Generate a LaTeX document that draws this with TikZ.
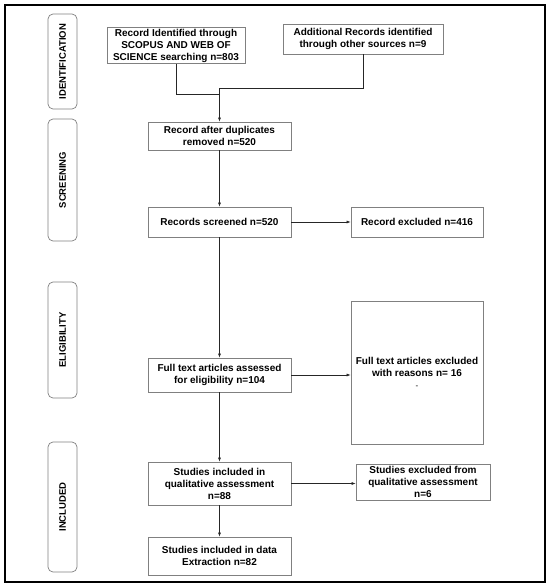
\documentclass[tikz,border=0pt]{standalone}
\usepackage{fontspec}
\setmainfont{Liberation Sans}
\usetikzlibrary{arrows.meta}
\begin{document}
\begin{tikzpicture}[x=1pt,y=-1pt,
  box/.style={draw=black!50, line width=0.7pt, fill=white, align=center, inner sep=1pt,
    font=\bfseries\fontsize{10}{12}\selectfont, text=black},
  lab/.style={draw=black!50, line width=0.7pt, rounded corners=5pt, rotate=90,
    font=\bfseries\fontsize{9.5}{11}\selectfont, inner sep=0pt, minimum height=29pt},
  arr/.style={draw=black!85, line width=0.6pt, -{Latex[length=4pt,width=3pt]}},
  ln/.style={draw=black!85, line width=0.6pt}]
\useasboundingbox (0,0) rectangle (550,587);
\draw[line width=1.3pt] (5,5) rectangle (545,582);
% stage labels
\node[lab, minimum width=95pt] (lid) at (62.5,61.5) {IDENTIFICATION};
\node[lab, minimum width=122pt] (lsc) at (62.5,180) {SCREENING};
\node[lab, minimum width=116pt] (lel) at (62.5,340) {ELIGIBILITY};
\node[lab, minimum width=130pt] (lin) at (62.5,507) {INCLUDED};
% boxes
\node[box, minimum width=138pt, minimum height=35pt] (A) at (176,45.5) {Record Identified through\\SCOPUS AND WEB OF\\SCIENCE searching n=803};
\node[box, minimum width=160pt, minimum height=30pt] (B) at (363,39) {Additional Records identified\\through other sources n=9};
\node[box, minimum width=143pt, minimum height=28pt] (C) at (219.5,136) {Record after duplicates\\removed n=520};
\node[box, minimum width=143pt, minimum height=30pt] (D) at (219.5,222) {Records screened n=520};
\node[box, minimum width=132pt, minimum height=30pt] (E) at (417,222) {Record excluded n=416};
\node[box, minimum width=143pt, minimum height=34pt] (F) at (219.5,375) {Full text articles assessed\\for eligibility n=104};
\node[box, minimum width=132pt, minimum height=143pt] (G) at (417,372.5) {Full text articles excluded\\with reasons n= 16\\{\normalfont\fontsize{8}{12}\selectfont -}};
\node[box, minimum width=143pt, minimum height=43pt] (H) at (219.5,483.5) {Studies included in\\qualitative assessment\\n=88};
\node[box, minimum width=134pt, minimum height=36pt] (I) at (423,482) {Studies excluded from\\qualitative assessment\\n=6};
\node[box, minimum width=143pt, minimum height=38pt] (J) at (219.5,556) {Studies included in data\\Extraction n=82};
% connectors
\coordinate (jA) at (219.5,94);
\coordinate (jB) at (219.5,88);
\draw[ln] (A.south) |- (jA);
\draw[arr] (B.south) |- (jB) -- (C.north);
\draw[arr] (C) -- (D);
\draw[arr] (D) -- (E);
\draw[arr] (D) -- (F);
\draw[arr] (F) -- (G.west |- F);
\draw[arr] (F) -- (H);
\draw[arr] (H) -- (I.west |- H);
\draw[arr] (H) -- (J);
\end{tikzpicture}
\end{document}
